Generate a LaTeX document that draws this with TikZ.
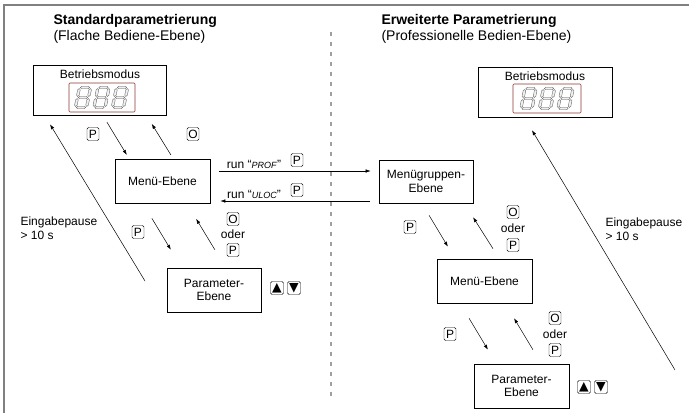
\documentclass[tikz,border=0pt]{standalone}
\usepackage{fontspec}
\setmainfont{Liberation Sans}
\newfontfamily\symfont{DejaVu Sans}
\usetikzlibrary{arrows.meta}
\definecolor{dispred}{RGB}{140,55,50}
\tikzset{
  box/.style={draw, line width=.7pt, align=center, inner sep=2pt},
  key/.style={draw, rounded corners=1.5pt, inner sep=0pt, minimum width=12pt, minimum height=13pt},
  arrkey/.style={key, minimum width=13pt, font=\symfont\fontsize{12.5}{12.5}\selectfont},
  flow/.style={-{Latex[length=5pt,width=3.5pt]}, line width=.5pt},
  gap/.style 2 args={shorten <=#1pt, shorten >=#2pt},
  seg/.style={draw=gray!70!black, fill=gray!12, line width=.35pt}
}
% one segment of the display, horizontal or vertical
\newcommand{\hseg}[3]{\filldraw[seg] (#1,#3) -- ++(1.3,-1.3) -- ({#2-1.3},{#3-1.3}) -- (#2,#3) -- ({#2-1.3},{#3+1.3}) -- ({#1+1.3},{#3+1.3}) -- cycle;}
\newcommand{\vseg}[3]{\filldraw[seg] (#1,#2) -- ++(1.3,1.3) -- ({#1+1.3},{#3-1.3}) -- (#1,#3) -- ({#1-1.3},{#3-1.3}) -- ({#1-1.3},{#2+1.3}) -- cycle;}
\newcommand{\segdigit}{\hseg{-4.6}{4.6}{-10}\hseg{-4.6}{4.6}{0}\hseg{-4.6}{4.6}{10}%
  \vseg{-5.6}{-9}{-1}\vseg{5.6}{-9}{-1}\vseg{-5.6}{1}{9}\vseg{5.6}{1}{9}}
\begin{document}
\begin{tikzpicture}[x=1pt,y=-1pt, every node/.style={font=\fontsize{12}{13.5}\selectfont}]
\useasboundingbox (0,0) rectangle (689,413);
\draw[gray, line width=1.5pt] (4,413) -- (4,5) -- (689,5);
\draw[gray!75, line width=1.1pt, dash pattern=on 4pt off 6pt] (331,32) -- (331,398);
% titles
\node[anchor=west, font=\fontsize{14}{16}\selectfont\bfseries] (titA) at (50,21) {Standardparametrierung};
\node[anchor=west, font=\fontsize{14}{16}\selectfont] (subA) at (50,37) {(Flache Bediene-Ebene)};
\node[anchor=west, font=\fontsize{14}{16}\selectfont\bfseries] (titB) at (378,21) {Erweiterte Parametrierung};
\node[anchor=west, font=\fontsize{14}{16}\selectfont] (subB) at (378,37) {(Professionelle Bedien-Ebene)};
% display boxes
\node[box, minimum width=133pt, minimum height=50pt] (bmA) at (99.5,90) {};
\node (bmAt) at (100,74) {Betriebsmodus};
\draw[dispred, line width=.6pt, rounded corners=1pt] (69,83) rectangle (135,112);
\foreach \x in {83,101.5,120}{
\begin{scope}[shift={(\x,97.5)}, xslant=.2] \segdigit \end{scope}}
\node[box, minimum width=134pt, minimum height=50pt] (bmB) at (545,92) {};
\node (bmBt) at (545,76) {Betriebsmodus};
\draw[dispred, line width=.6pt, rounded corners=1pt] (513,84) rectangle (581,113);
\foreach \x in {528.5,547,565.5}{
\begin{scope}[shift={(\x,98.5)}, xslant=.2] \segdigit \end{scope}}
% left side
\node[box, minimum width=95pt, minimum height=44pt] (menuA) at (162.5,181.5) {Menü-Ebene};
\node[box, minimum width=94pt, minimum height=44pt] (parA) at (214,290) {Parameter-\\Ebene};
\draw[flow, gap={8}{5}] ([xshift=3.3pt]bmA.south) -- ([xshift=-33.1pt]menuA.north);
\draw[flow, gap={5}{10}] ([xshift=11pt]menuA.north) -- ([xshift=47pt]bmA.south);
\draw[flow, gap={17}{21}] ([xshift=-19.4pt]menuA.south) -- ([xshift=-32.3pt]parA.north);
\draw[flow, gap={21}{17.5}] ([xshift=11.7pt]parA.north) -- ([xshift=24.6pt]menuA.south);
\coordinate (pauseA) at (145,281);
\draw[flow, gap={0}{10.5}] (pauseA) -- ([xshift=-54.9pt]bmA.south);
\node[key] (kA1) at (93,134) {P};
\node[key] (kA2) at (193,134) {O};
\node[key] (kA3) at (138,232) {P};
\node[key] (kA4) at (233,219) {O};
\node (odA) at (233,234.5) {oder};
\node[key] (kA5) at (233,250) {P};
\node[arrkey] (upA) at (277,288) {▲};
\node[arrkey] (dnA) at (294,288) {▼};
\node[anchor=west, align=left] (pA) at (17,228) {Eingabepause\\> 10 s};
% right side
\node[box, minimum width=94pt, minimum height=43pt] (grpB) at (426,181.5) {Menügruppen-\\Ebene};
\node[box, minimum width=95pt, minimum height=44pt] (menuB) at (484.5,281) {Menü-Ebene};
\node[box, minimum width=95pt, minimum height=44pt] (parB) at (521.5,386) {Parameter-\\Ebene};
\draw[flow, gap={14}{14}] ([xshift=-4.1pt]grpB.south) -- ([xshift=-29.4pt]menuB.north);
\draw[flow, gap={11.8}{16.5}] ([xshift=14.8pt]menuB.north) -- ([xshift=38.3pt]grpB.south);
\draw[flow, gap={17.4}{16.3}] ([xshift=-24.4pt]menuB.south) -- ([xshift=-25.2pt]parB.north);
\draw[flow, gap={16.3}{17.4}] ([xshift=19.8pt]parB.north) -- ([xshift=20.6pt]menuB.south);
\coordinate (pauseB) at (675,370);
\draw[flow, gap={0}{15}] (pauseB) -- ([xshift=-20.7pt]bmB.south);
\node[key] (kB1) at (410,227) {P};
\node[key] (kB2) at (513,212) {O};
\node (odB) at (513,228.5) {oder};
\node[key] (kB3) at (513,245) {P};
\node[key] (kB4) at (450,334) {P};
\node[key] (kB5) at (555,318) {O};
\node (odC) at (555,334) {oder};
\node[key] (kB6) at (555,350) {P};
\node[arrkey] (upB) at (584,387) {▲};
\node[arrkey] (dnB) at (601,387) {▼};
\node[anchor=west, align=left] (pB) at (602,229) {Eingabepause\\> 10 s};
% level change
\draw[flow, gap={9}{8}] ([yshift=10.5pt]menuA.east) -- ([yshift=10.5pt]grpB.west);
\draw[flow, gap={9}{10}] ([yshift=-19.5pt]grpB.west) -- ([yshift=-19.5pt]menuA.east);
\node (runA) at (254,164) {run “\textit{\fontsize{9}{10}\selectfont PROF}”};
\node[key] (kR1) at (297,160) {P};
\node (runB) at (254,194) {run “\textit{\fontsize{9}{10}\selectfont ULOC}”};
\node[key] (kR2) at (297,190) {P};
\end{tikzpicture}
\end{document}
